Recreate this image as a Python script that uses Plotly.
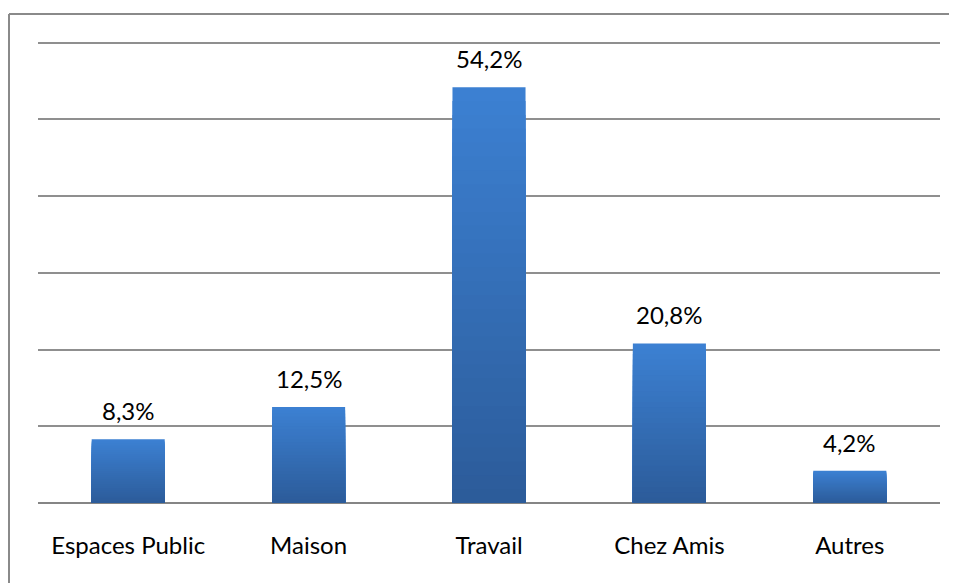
import plotly.graph_objects as go

categories = ["Espaces Public", "Maison", "Travail", "Chez Amis", "Autres"]
values = [8.3, 12.5, 54.2, 20.8, 4.2]
y_ticks = [0, 10, 20, 30, 40, 50, 60]

top_rgb = (60, 128, 210)
bot_rgb = (44, 92, 154)
N = 30

fig = go.Figure()
for k in range(N):
    frac = 1 - k / N
    t = k / (N - 1)
    c = tuple(round(top_rgb[i] + (bot_rgb[i] - top_rgb[i]) * t) for i in range(3))
    fig.add_trace(go.Bar(
        x=categories,
        y=[v * frac for v in values],
        marker=dict(color="rgb(%d,%d,%d)" % c, line=dict(width=0)),
        hoverinfo="skip" if k else "x+y",
        showlegend=False,
    ))

for cat, v in zip(categories, values):
    fig.add_annotation(
        x=cat, y=v, xref="x", yref="y",
        text=f"{v:.1f}".replace(".", ",") + "%",
        showarrow=False, yanchor="bottom", yshift=12,
        font=dict(family="Lato", size=24, color="#000000"),
    )

# outer chart border (left and top edges visible)
bx = -29 / 902
by = 1 + 21 / 467.7
fig.add_shape(type="line", xref="paper", yref="paper", x0=bx, x1=bx, y0=-0.3, y1=by,
              line=dict(color="#8a8a8a", width=2))
fig.add_shape(type="line", xref="paper", yref="paper", x0=bx, x1=1.05, y0=by, y1=by,
              line=dict(color="#8a8a8a", width=2))

fig.update_layout(
    width=949, height=575,
    margin=dict(l=30, r=17, t=27, b=80),
    barmode="overlay",
    bargap=0.595,
    plot_bgcolor="white",
    paper_bgcolor="white",
    font=dict(family="Lato", color="#000000"),
    xaxis=dict(
        showgrid=False, showline=False, zeroline=False,
        ticks="outside", ticklen=21, tickcolor="rgba(0,0,0,0)",
        tickfont=dict(family="Lato", size=24, color="#000000"),
    ),
    yaxis=dict(
        range=[0, 61], tickvals=y_ticks, showticklabels=False,
        showgrid=True, gridcolor="#8f8f8f", gridwidth=1.6,
        zeroline=True, zerolinecolor="#858585", zerolinewidth=2,
        showline=False,
    ),
)

fig.write_html("out.html")
